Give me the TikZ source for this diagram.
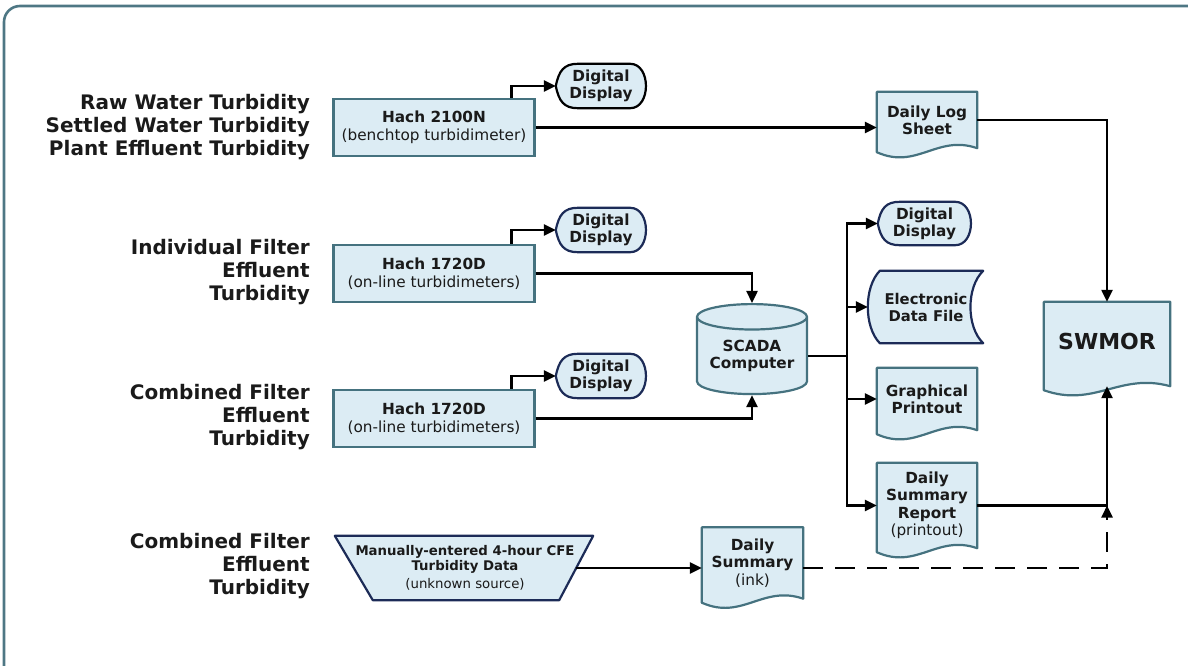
\documentclass[tikz,border=0pt]{standalone}
\usepackage{fontspec}
\setmainfont{DejaVu Sans}
\usepackage{tikz}
\usetikzlibrary{arrows.meta}
\usetikzlibrary{backgrounds}
\usetikzlibrary{calc}
\usetikzlibrary{shapes.geometric}

\definecolor{boxfill}{HTML}{DCECF4}
\definecolor{boxline}{HTML}{45727F}
\definecolor{navyline}{HTML}{1C2B57}
\definecolor{frameline}{HTML}{4E7784}
\definecolor{inkcol}{HTML}{1A1A1A}

\tikzset{
  lbl/.style={anchor=east, align=right, font=\fontsize{20}{23}\selectfont\bfseries, text=inkcol, inner sep=0pt},
  txt/.style={align=center, font=\fontsize{15.3}{17.5}\selectfont, text=inkcol, inner sep=0pt},
  bold/.style={font=\fontsize{15.3}{17}\selectfont\bfseries},
  box/.style={txt, rectangle, draw=boxline, fill=boxfill, line width=2.2pt, minimum width=201pt, minimum height=57pt},
  disp/.style={txt, bold, minimum width=90pt, minimum height=44pt},
  cyl/.style={txt, bold, cylinder, shape border rotate=90, aspect=0.3, minimum height=90pt, minimum width=110pt,
              draw=boxline, fill=boxfill, line width=2.2pt},
  shapeline/.style={fill=boxfill, draw=boxline, line width=2.2pt, line join=round},
  arr/.style={-{Triangle[length=12pt,width=11pt]}, line width=2.4pt, draw=black},
  dashline/.style={arr, dash pattern=on 20pt off 12pt},
  frame/.style={draw=frameline, line width=2.6pt, rounded corners=16pt}
}

% document: flat top, wavy bottom
\newcommand{\docshape}[1]{%
  \draw[shapeline] (#1.south east) -- (#1.north east) -- (#1.north west) -- ($(#1.south west)+(0,4)$)
    .. controls ($(#1.south west)!0.4!(#1.south east)+(0,22)$) and ($(#1.south west)!0.6!(#1.south east)+(0,-14)$) .. (#1.south east) -- cycle;}
% display: pointed left, round right
\newcommand{\dispshape}[2]{%
  \draw[shapeline, draw=#2] (#1.west) .. controls ($(#1.west)+(3,-15)$) and ($(#1.north west)+(8,0)$) .. ($(#1.north west)+(22,0)$)
    -- ($(#1.north east)+(-16,0)$) .. controls ($(#1.north east)+(5,0)$) and ($(#1.south east)+(5,0)$) .. ($(#1.south east)+(-16,0)$)
    -- ($(#1.south west)+(22,0)$) .. controls ($(#1.south west)+(8,0)$) and ($(#1.west)+(3,15)$) .. (#1.west) -- cycle;}
% stored data
\newcommand{\storeshape}[1]{%
  \draw[shapeline, draw=navyline] ($(#1.north west)+(4,0)$) -- ($(#1.north east)+(7,0)$)
    .. controls ($(#1.east)+(-10,-20)$) and ($(#1.east)+(-10,20)$) .. ($(#1.south east)+(7,0)$)
    -- ($(#1.south west)+(4,0)$) .. controls ($(#1.west)+(-12,20)$) and ($(#1.west)+(-12,-20)$) .. ($(#1.north west)+(4,0)$) -- cycle;}
% manual input
\newcommand{\trapshape}[1]{%
  \draw[shapeline, draw=navyline] ($(#1.north west)+(-19,0)$) -- ($(#1.north east)+(17,0)$)
    -- ($(#1.south east)+(-17,0)$) -- ($(#1.south west)+(19,0)$) -- cycle;}

\begin{document}
\begin{tikzpicture}[x=1pt,y=-1pt]
  \useasboundingbox (0,0) rectangle (1188,666);

  % what is measured
  \node[lbl] (raw) at (310,127) {Raw Water Turbidity\\Settled Water Turbidity\\Plant Effluent Turbidity};
  \node[lbl] (ind) at (310,272) {Individual Filter\\Effluent\\Turbidity};
  \node[lbl] (cfe) at (310,417) {Combined Filter\\Effluent\\Turbidity};
  \node[lbl] (man) at (310,566) {Combined Filter\\Effluent\\Turbidity};

  % instruments
  \node[box] (h1) at (434,127.5) {\textbf{Hach 2100N}\\(benchtop turbidimeter)};
  \node[box] (h2) at (434,273.5) {\textbf{Hach 1720D}\\(on-line turbidimeters)};
  \node[box] (h3) at (434,418.5) {\textbf{Hach 1720D}\\(on-line turbidimeters)};
  \node[disp] (dd1) at (601,86) {Digital\\Display};
  \node[disp] (dd2) at (601,230) {Digital\\Display};
  \node[disp] (dd3) at (601,376) {Digital\\Display};
  \node[cyl] (scada) at (752,356) {SCADA\\Computer};
  \node[txt, font=\fontsize{13.3}{15}\selectfont, minimum width=222pt, minimum height=64pt] (trap) at (465,568)
    {\textbf{Manually-entered 4-hour CFE}\\\textbf{Turbidity Data}\\[3pt](unknown source)};

  % records
  \node[txt, bold, minimum width=100pt, minimum height=56pt] (dls) at (927,120) {Daily Log\\Sheet};
  \node[txt, font=\fontsize{22}{26}\selectfont\bfseries, minimum width=126pt, minimum height=84pt] (sw) at (1107,344) {\raisebox{6pt}{SWMOR}};
  \node[disp, minimum width=93pt, minimum height=43pt] (dd4) at (924.5,223.5) {Digital\\Display};
  \node[txt, bold, font=\fontsize{14.8}{17}\selectfont\bfseries, minimum width=100pt, minimum height=72pt] (edf) at (926,307) {Electronic\\Data File};
  \node[txt, bold, minimum width=100pt, minimum height=62pt] (gp) at (927,399) {Graphical\\Printout};
  \node[txt, minimum width=100pt, minimum height=85pt] (dsr) at (927,505.5) {\textbf{Daily}\\\textbf{Summary}\\\textbf{Report}\\(printout)};
  \node[txt, minimum width=101pt, minimum height=71pt] (dsi) at (752.5,563) {\textbf{Daily}\\\textbf{Summary}\\(ink)};

  % flows
  \draw[arr] ($(h1.north east)+(-24,0)$) |- (dd1.west);
  \draw[arr] (h1.east) -- (h1.east -| dls.west);
  \draw[arr] (dls.east) -| (sw.north);
  \draw[arr] ($(h2.north east)+(-24,0)$) |- (dd2.west);
  \draw[arr] (h2.east) -| (scada.north);
  \draw[arr] ($(h3.north east)+(-24,0)$) |- (dd3.west);
  \draw[arr] (h3.east) -| (scada.south);
  \coordinate (bus) at ($(scada.east)+(39,0)$);
  \draw[line width=2.4pt] (scada.east) -- (bus);
  \draw[arr] (bus) |- (dd4.west);
  \draw[arr] (bus) |- ($(edf.west)+(-8,0)$);
  \draw[arr] (bus) |- (gp.west);
  \draw[arr] (bus) |- (dsr.west);
  \draw[arr] (dsr.east) -| (sw.south);
  \draw[arr] (trap.east) -- (trap.east -| dsi.west);
  \draw[dashline] (dsi.east |- trap.east) -| (dsr.east -| sw.south);

  \begin{scope}[on background layer]
    \draw[frame] (4,6) rectangle (1215,690);
    \dispshape{dd1}{black}
    \dispshape{dd2}{navyline}
    \dispshape{dd3}{navyline}
    \dispshape{dd4}{navyline}
    \docshape{dls}
    \docshape{sw}
    \docshape{gp}
    \docshape{dsr}
    \docshape{dsi}
    \storeshape{edf}
    \trapshape{trap}
  \end{scope}
\end{tikzpicture}
\end{document}
